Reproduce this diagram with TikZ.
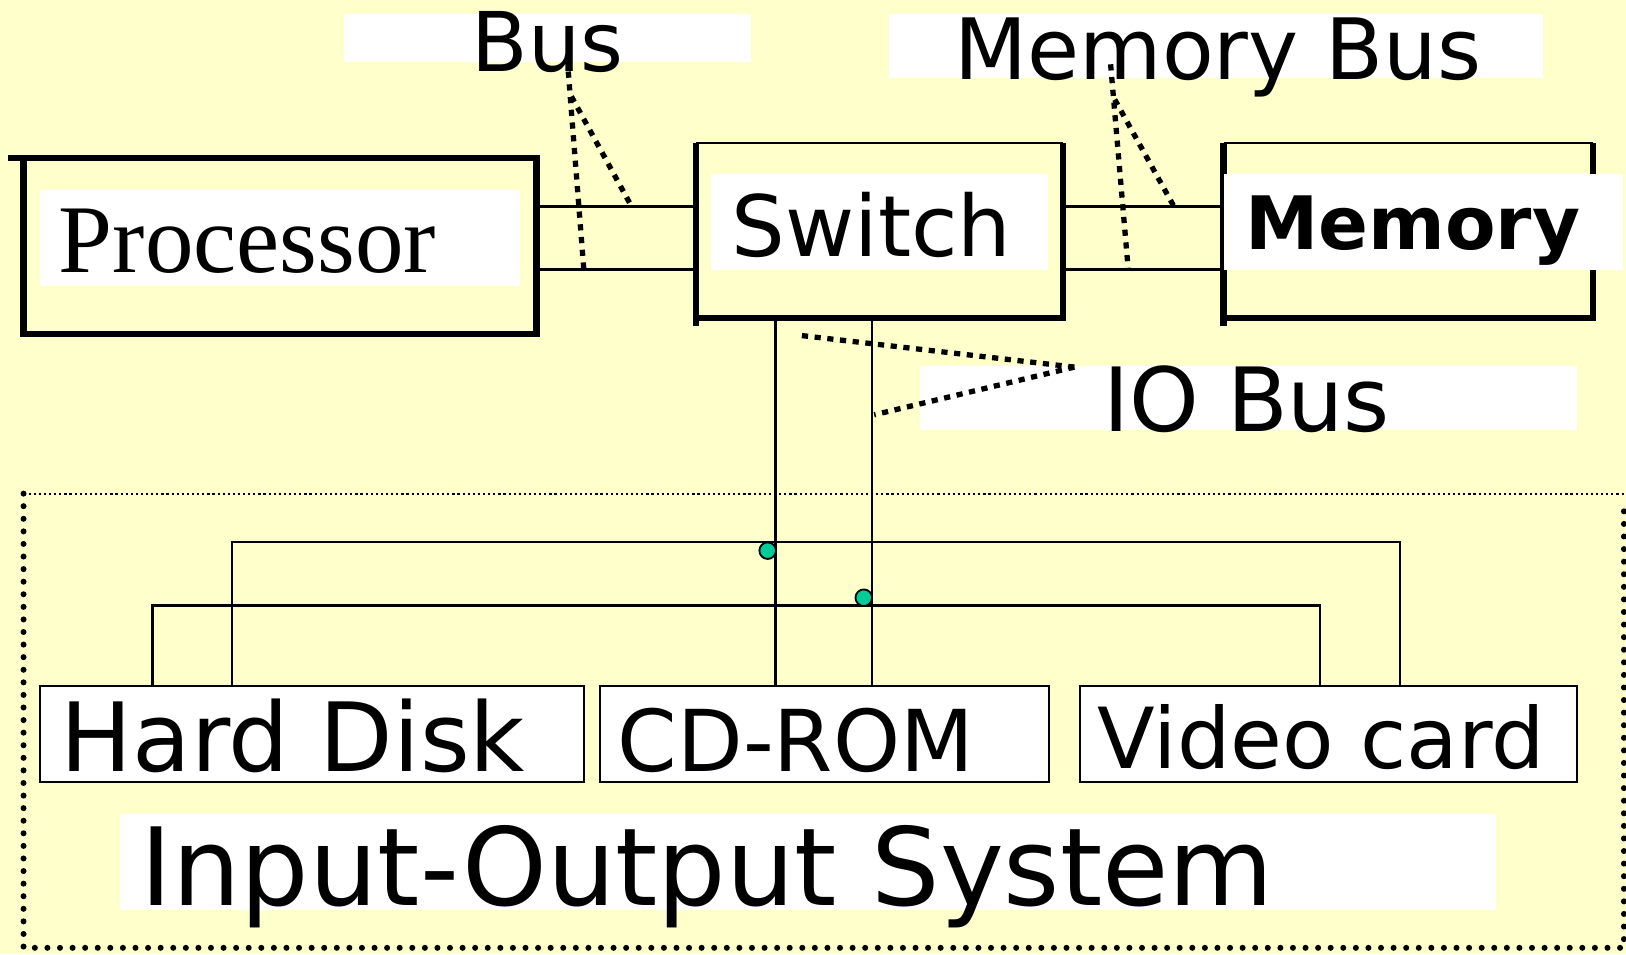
\documentclass[tikz,border=0pt]{standalone}
\usepackage{fontspec}
\newfontfamily\sansf{DejaVu Sans}
\newfontfamily\serff{Liberation Serif}
\definecolor{paper}{RGB}{255,255,204}
\definecolor{jade}{RGB}{0,204,153}

\begin{document}
\begin{tikzpicture}[x=0.01cm, y=-0.01cm,
  thickline/.style={line width=1.75pt, line join=miter},
  thinline/.style={line width=0.65pt},
  wire/.style={line width=0.65pt},
  pad/.style={fill=white, draw=none, inner sep=0pt, outer sep=0pt, anchor=north west},
  framebox/.style={draw=none, inner sep=0pt, outer sep=0pt, anchor=north west},
  devbox/.style={draw, fill=white, line width=0.55pt, inner sep=0pt, outer sep=0pt, anchor=north west},
  lbl/.style={inner sep=0pt, anchor=base west},
  junction/.style={circle, draw, fill=jade, line width=0.5pt, inner sep=0pt, minimum size=0.16cm},
  callout/.style={line width=1.45pt, dash pattern=on 1.7pt off 1.8pt},
  bigdots/.style={line width=1.65pt, line cap=round, dash pattern=on 0pt off 3.45pt},
  finedots/.style={line width=0.6pt, dash pattern=on 0.6pt off 0.8pt}
]
% canvas
\fill[paper] (0,0) rectangle (1568,920);
\useasboundingbox (0,0) rectangle (1568,920);

% ---- top row: processor, switch, memory ----
\node[framebox, minimum width=4.942cm, minimum height=1.696cm] (proc) at (22.8,152.4) {};
\draw[thickline] (proc.north west) rectangle (proc.south east);
\draw[thickline] (proc.north west) -- ++(-15,0);

\node[framebox, minimum width=3.54cm, minimum height=1.686cm] (sw) at (671,138) {};
\draw[thickline] (sw.north west) -- (sw.south west) -- (sw.south east) -- (sw.north east);
\draw[thinline] (sw.north west) -- (sw.north east);
\draw[thickline] (sw.south west) -- ++(0,7.5);

\node[framebox, minimum width=3.56cm, minimum height=1.686cm] (mem) at (1180,138) {};
\draw[thickline] (mem.north west) -- (mem.south west) -- (mem.south east) -- (mem.north east);
\draw[thinline] (mem.north west) -- (mem.north east);
\draw[thickline] (mem.south west) -- ++(0,7.5);

% label pads
\node[pad, minimum width=3.92cm, minimum height=0.46cm] (buspad) at (332,13.5) {};
\node[pad, minimum width=6.31cm, minimum height=0.615cm] (membuspad) at (857,13.5) {};
\node[pad, minimum width=4.625cm, minimum height=0.93cm] (procpad) at (38.5,183) {};
\node[pad, minimum width=3.24cm, minimum height=0.92cm] (swpad) at (686,168) {};
\node[pad, minimum width=3.85cm, minimum height=0.92cm] (mempad) at (1180,168) {};
\node[pad, minimum width=6.33cm, minimum height=0.62cm] (iopad) at (887,353) {};
\node[pad, minimum width=13.26cm, minimum height=0.92cm] (iospad) at (116,785) {};

% texts
\node[lbl, font=\sansf\fontsize{22.6}{27}\selectfont] (bustxt) at (454,69) {Bus};
\node[lbl, font=\sansf\fontsize{23.2}{28}\selectfont] (membustxt) at (920,77) {Memory Bus};
\node[lbl, font=\serff\fontsize{26.6}{32}\selectfont] (proctxt) at (56,263) {Processor};
\node[lbl, font=\sansf\fontsize{23.2}{28}\selectfont] (swtxt) at (705,247) {Switch};
\node[lbl, font=\sansf\bfseries\fontsize{20.2}{24}\selectfont] (memtxt) at (1200,241) {Memory};
\node[lbl, font=\sansf\fontsize{24.3}{29}\selectfont] (iotxt) at (1063,416) {IO Bus};

% ---- input-output system ----
\node[devbox, minimum width=5.24cm, minimum height=0.925cm] (hd) at (39,661.5) {};
\node[devbox, minimum width=4.325cm, minimum height=0.925cm] (cd) at (578.5,661.5) {};
\node[devbox, minimum width=4.79cm, minimum height=0.925cm] (vc) at (1041,661.5) {};
\node[lbl, font=\sansf\fontsize{26.2}{31}\selectfont] (hdtxt) at (58,744) {Hard Disk};
\node[lbl, font=\sansf\fontsize{23.4}{28}\selectfont] (cdtxt) at (595,744) {CD-ROM};
\node[lbl, font=\sansf\fontsize{23.1}{28}\selectfont] (vctxt) at (1058,741) {Video card};
\node[lbl, font=\sansf\fontsize{29.6}{35}\selectfont] (iostxt) at (135,873) {Input-Output System};

% bus wires between the top boxes
\coordinate (busHi) at (0,199);
\coordinate (busLo) at (0,260);
\draw[wire] (proc.east |- busHi) -- (sw.west |- busHi);
\draw[wire] (proc.east |- busLo) -- (sw.west |- busLo);
\draw[wire] (sw.east |- busHi) -- (mem.west |- busHi);
\draw[wire] (sw.east |- busLo) -- (mem.west |- busLo);

% IO bus from the switch down to the devices
\coordinate (io1) at (748,0);
\coordinate (io2) at (841,0);
\draw[wire] (sw.south -| io1) -- (cd.north -| io1);
\draw[wire] (sw.south -| io2) -- (cd.north -| io2);

% device buses
\coordinate (ua) at (224,522.5);
\coordinate (ub) at (1350,522.5);
\coordinate (la) at (147,584);
\coordinate (lb) at (1273,584);
\draw[wire] (hd.north -| ua) -- (ua) -- (ub) -- (vc.north -| ub);
\draw[wire] (hd.north -| la) -- (la) -- (lb) -- (vc.north -| lb);

% junction markers
\node[junction] (j1) at (740.3,531) {};
\node[junction] (j2) at (833,576.4) {};

% callout leaders
\coordinate (busTipA) at (548,69);
\coordinate (busTipB) at (551,93);
\coordinate (busEndA) at (563,260);
\coordinate (busEndB) at (609,199);
\draw[callout] (busTipA) -- (busEndA);
\draw[callout] (busTipB) -- (busEndB);

\coordinate (memTipA) at (1071,62);
\coordinate (memTipB) at (1075,96);
\coordinate (memEndA) at (1088,260);
\coordinate (memEndB) at (1132,199);
\draw[callout] (memTipA) -- (memEndA);
\draw[callout] (memTipB) -- (memEndB);

\coordinate (ioTip) at (1036,354);
\coordinate (ioEndA) at (768,323);
\coordinate (ioEndB) at (843,400);
\draw[callout] (ioTip) -- (ioEndA);
\draw[callout] (ioTip) -- (ioEndB);

% dotted frame of the input-output system
\coordinate (fTL) at (22.7,476);
\coordinate (fTR) at (1566,476);
\coordinate (fBL) at (22.7,914);
\coordinate (fBR) at (1566,914);
\coordinate (fRT) at (1566,490);
\draw[finedots] (fTL) -- (fTR);
\draw[bigdots] (fTL) -- (fBL) -- (fBR) -- (fRT);
\end{tikzpicture}
\end{document}
